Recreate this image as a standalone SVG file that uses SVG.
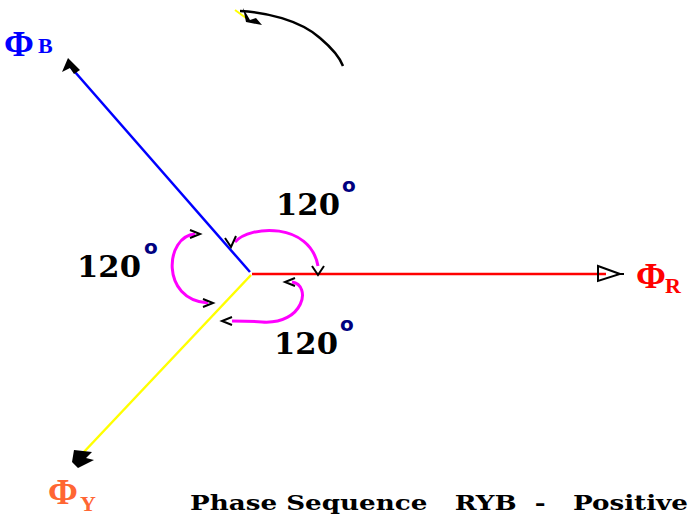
<svg xmlns="http://www.w3.org/2000/svg" width="693" height="519" viewBox="0 0 693 519">
<style>
.lbl{font-family:"DejaVu Serif",serif;font-weight:bold;font-size:30px;fill:#000}
.deg{font-family:"DejaVu Sans",sans-serif;font-weight:bold;font-size:20px;fill:#000080}
.phi{font-family:"Liberation Serif",serif;font-weight:bold;font-size:36px}
.sub{font-family:"Liberation Serif",serif;font-weight:bold;font-size:22px}
.arc{fill:none;stroke:#ff00ff;stroke-width:3}
.ah{fill:none;stroke:#000;stroke-width:2}
</style>
<rect width="693" height="519" fill="#fff"/>
<g id="connectors">
  <line x1="252" y1="274" x2="606" y2="274" stroke="#ff0000" stroke-width="2.5"/>
  <line x1="250" y1="272" x2="68" y2="64" stroke="#0000ff" stroke-width="2.5"/>
  <line x1="251" y1="275" x2="82" y2="454" stroke="#ffff00" stroke-width="2.5"/>
  <path class="arc" d="M235 242 C250 225 310 222 318 266"/>
  <path class="arc" d="M195 234 C165 236 160 300 208 303"/>
  <path class="arc" d="M292 282 C312 285 304 325 262 322 C250 321 240 321 232 321"/>
  <path d="M240 11 C265 12 300 20 320 38 C333 49 340 58 343 66" fill="none" stroke="#000" stroke-width="2.5"/>
  <line x1="235" y1="10" x2="246" y2="18" stroke="#ffff00" stroke-width="2"/>
  <path class="ah" d="M598 266 L620 274 L598 281 Z M620 274 L624 274"/>
  <path d="M68 58 L80 70 L74 74 L70 68 L62 72 Z" fill="#000"/>
  <path d="M74 450 L92 452 L86 458 L94 460 L78 468 L72 462 Z" fill="#000"/>
  <path d="M243 8 L246 22 L262 25 L256 18 L250 20 Z" fill="#000"/>
  <path class="ah" d="M225 238 L231 247 L236 236"/>
  <path class="ah" d="M312 266 L318 275 L324 266"/>
  <path class="ah" d="M190 230 L200 234 L190 238"/>
  <path class="ah" d="M203 299 L213 303 L203 307"/>
  <path class="ah" d="M295 278 L285 282 L295 286"/>
  <path class="ah" d="M232 317 L222 321 L232 325"/>
</g>
<g id="phiB"><text x="4" y="56" class="phi" fill="#0000ff">Φ</text><text x="38" y="53" class="sub" fill="#0000ff">B</text></g>
<g id="phiR"><text x="636" y="288" class="phi" fill="#ff0000">Φ</text><text x="665" y="293" class="sub" fill="#ff0000">R</text></g>
<g id="phiY"><text x="48" y="504" class="phi" fill="#ff6633">Φ</text><text x="80" y="511" class="sub" fill="#ff6633">Y</text></g>
<g id="ang1"><text x="276" y="215" class="lbl" textLength="64" lengthAdjust="spacingAndGlyphs">120</text><text x="342" y="192" class="deg">o</text></g>
<g id="ang2"><text x="77" y="277" class="lbl" textLength="64" lengthAdjust="spacingAndGlyphs">120</text><text x="144" y="254" class="deg">o</text></g>
<g id="ang3"><text x="274" y="354" class="lbl" textLength="64" lengthAdjust="spacingAndGlyphs">120</text><text x="340" y="331" class="deg">o</text></g>
<g id="caption"><text x="190" y="510" font-family="'DejaVu Serif',serif" font-weight="bold" font-size="21" textLength="498" lengthAdjust="spacingAndGlyphs" xml:space="preserve">Phase Sequence   RYB  -   Positive</text></g>
</svg>
